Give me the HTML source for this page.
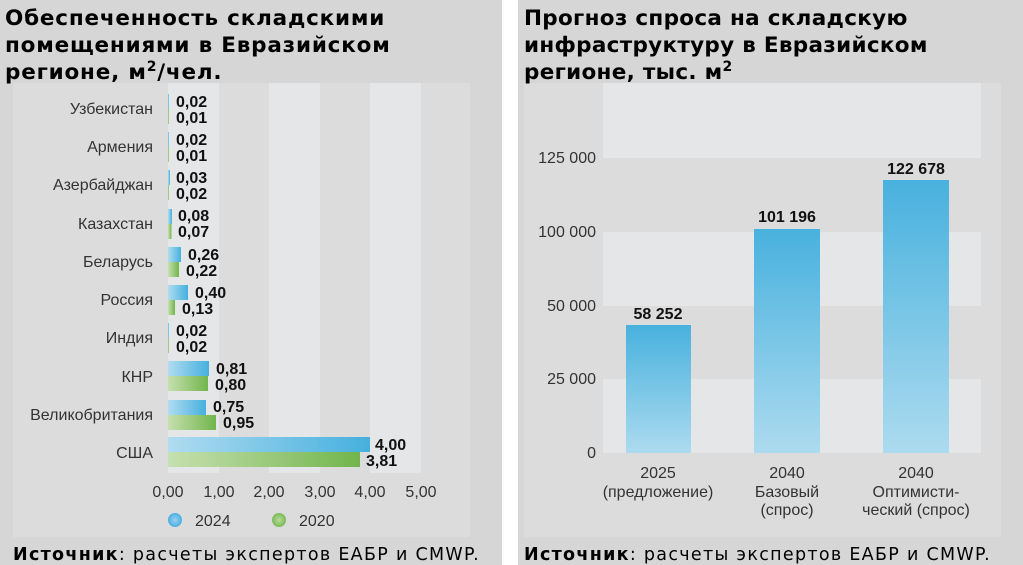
<!DOCTYPE html>
<html><head><meta charset="utf-8"><style>
html,body{margin:0;padding:0;background:#fff;}
svg{display:block;font-family:"Liberation Sans",sans-serif;}
</style></head><body>
<svg width="1023" height="565" viewBox="0 0 1023 565" xmlns="http://www.w3.org/2000/svg">
<defs>
<linearGradient id="hb" x1="0" x2="1" y1="0" y2="0"><stop offset="0" stop-color="#b0dcf0"/><stop offset="1" stop-color="#45b0de"/></linearGradient>
<linearGradient id="hg" x1="0" x2="1" y1="0" y2="0"><stop offset="0" stop-color="#c6e0b0"/><stop offset="1" stop-color="#72b54c"/></linearGradient>
<linearGradient id="vb" x1="0" x2="0" y1="0" y2="1"><stop offset="0" stop-color="#48b1de"/><stop offset="1" stop-color="#acdbef"/></linearGradient>
<radialGradient id="cb"><stop offset="0" stop-color="#9ad2ee"/><stop offset="1" stop-color="#4aaee0"/></radialGradient>
<radialGradient id="cg"><stop offset="0" stop-color="#b7dd98"/><stop offset="1" stop-color="#7ab958"/></radialGradient>
</defs>
<rect x="0" y="0" width="502" height="565" fill="#d6d6d6"/>
<rect x="518" y="0" width="505" height="565" fill="#d6d6d6"/>
<!-- LEFT -->
<rect x="13" y="83" width="457" height="454" fill="#dcdcdc"/>
<rect x="168" y="83" width="51" height="390" fill="#e5e6e8"/>
<rect x="269" y="83" width="51" height="390" fill="#e5e6e8"/>
<rect x="370" y="83" width="51" height="390" fill="#e5e6e8"/>
<g font-family="DejaVu Sans, sans-serif" font-weight="bold" font-size="21.5" fill="#000" letter-spacing="0.8">
<text x="5" y="25">Обеспеченность складскими</text>
<text x="5" y="52">помещениями в Евразийском</text>
<text x="5" y="79">регионе, м<tspan font-size="14" dy="-8">2</tspan><tspan dy="8">/чел.</tspan></text>
</g>
<g font-size="16" fill="#333" text-anchor="end">
<text x="153" y="114">Узбекистан</text>
<text x="153" y="152">Армения</text>
<text x="153" y="190">Азербайджан</text>
<text x="153" y="229">Казахстан</text>
<text x="153" y="267">Беларусь</text>
<text x="153" y="305">Россия</text>
<text x="153" y="343">Индия</text>
<text x="153" y="382">КНР</text>
<text x="153" y="420">Великобритания</text>
<text x="153" y="458">США</text>
</g>
<g>
<rect x="168" y="94" width="1" height="15" fill="url(#hb)"/><rect x="168" y="109" width="1" height="15" fill="url(#hg)"/>
<rect x="168" y="132" width="1" height="15" fill="url(#hb)"/><rect x="168" y="147" width="1" height="15" fill="url(#hg)"/>
<rect x="168" y="170" width="2" height="15" fill="url(#hb)"/><rect x="168" y="185" width="1" height="15" fill="url(#hg)"/>
<rect x="168" y="209" width="4" height="15" fill="url(#hb)"/><rect x="168" y="224" width="3.5" height="15" fill="url(#hg)"/>
<rect x="168" y="247" width="13" height="15" fill="url(#hb)"/><rect x="168" y="262" width="11" height="15" fill="url(#hg)"/>
<rect x="168" y="285" width="20" height="15" fill="url(#hb)"/><rect x="168" y="300" width="7" height="15" fill="url(#hg)"/>
<rect x="168" y="323" width="1" height="15" fill="url(#hb)"/><rect x="168" y="338" width="1" height="15" fill="url(#hg)"/>
<rect x="168" y="361" width="41" height="15" fill="url(#hb)"/><rect x="168" y="376" width="40" height="15" fill="url(#hg)"/>
<rect x="168" y="400" width="38" height="15" fill="url(#hb)"/><rect x="168" y="415" width="48" height="15" fill="url(#hg)"/>
<rect x="168" y="437" width="202" height="15" fill="url(#hb)"/><rect x="168" y="452" width="192" height="15" fill="url(#hg)"/>
</g>
<g font-size="16" font-weight="bold" fill="#111">
<text x="176" y="107">0,02</text><text x="176" y="123">0,01</text>
<text x="176" y="145">0,02</text><text x="176" y="161">0,01</text>
<text x="176" y="183">0,03</text><text x="176" y="199">0,02</text>
<text x="178" y="221">0,08</text><text x="178" y="237">0,07</text>
<text x="188" y="260">0,26</text><text x="186" y="276">0,22</text>
<text x="195" y="298">0,40</text><text x="182" y="314">0,13</text>
<text x="176" y="336">0,02</text><text x="176" y="352">0,02</text>
<text x="216" y="374">0,81</text><text x="215" y="390">0,80</text>
<text x="213" y="412">0,75</text><text x="223" y="428">0,95</text>
<text x="375" y="450">4,00</text><text x="366" y="466">3,81</text>
</g>
<g font-size="16" fill="#333" text-anchor="middle">
<text x="168" y="497">0,00</text><text x="219" y="497">1,00</text><text x="269" y="497">2,00</text>
<text x="320" y="497">3,00</text><text x="370" y="497">4,00</text><text x="421" y="497">5,00</text>
</g>
<circle cx="175" cy="520" r="7" fill="url(#cb)"/>
<text x="195" y="526" font-size="16" fill="#333">2024</text>
<circle cx="279" cy="520" r="7" fill="url(#cg)"/>
<text x="299" y="526" font-size="16" fill="#333">2020</text>
<text x="13" y="560" font-family="DejaVu Sans, sans-serif" font-size="17.5" letter-spacing="1.3" fill="#000"><tspan font-weight="bold">Источник</tspan>: расчеты экспертов ЕАБР и CMWP.</text>
<!-- RIGHT -->
<rect x="524" y="83" width="477" height="454" fill="#dcdcdc"/>
<rect x="603" y="83" width="378" height="75" fill="#e5e6e8"/>
<rect x="603" y="232" width="378" height="74" fill="#e5e6e8"/>
<rect x="603" y="379" width="378" height="74" fill="#e5e6e8"/>
<g font-family="DejaVu Sans, sans-serif" font-weight="bold" font-size="21.5" fill="#000" letter-spacing="0.3">
<text x="524" y="25">Прогноз спроса на складскую</text>
<text x="524" y="52">инфраструктуру в Евразийском</text>
<text x="524" y="79">регионе, тыс. м<tspan font-size="14" dy="-8">2</tspan></text>
</g>
<g font-size="16" fill="#333" text-anchor="end">
<text x="596" y="163">125 000</text>
<text x="596" y="237">100 000</text>
<text x="596" y="311">50 000</text>
<text x="596" y="384">25 000</text>
<text x="596" y="458">0</text>
</g>
<rect x="626" y="325" width="65" height="128" fill="url(#vb)"/>
<rect x="754" y="229" width="66" height="224" fill="url(#vb)"/>
<rect x="883" y="180" width="66" height="273" fill="url(#vb)"/>
<g font-size="16" font-weight="bold" fill="#111" text-anchor="middle">
<text x="658" y="319">58 252</text>
<text x="787" y="222">101 196</text>
<text x="916" y="174">122 678</text>
</g>
<g font-size="16" fill="#333" text-anchor="middle">
<text x="658" y="478">2025</text><text x="658" y="497">(предложение)</text>
<text x="787" y="478">2040</text><text x="787" y="497">Базовый</text><text x="787" y="515">(спрос)</text>
<text x="916" y="478">2040</text><text x="916" y="497">Оптимисти-</text><text x="916" y="515">ческий (спрос)</text>
</g>
<text x="524" y="560" font-family="DejaVu Sans, sans-serif" font-size="17.5" letter-spacing="1.3" fill="#000"><tspan font-weight="bold">Источник</tspan>: расчеты экспертов ЕАБР и CMWP.</text>
</svg>
</body></html>
